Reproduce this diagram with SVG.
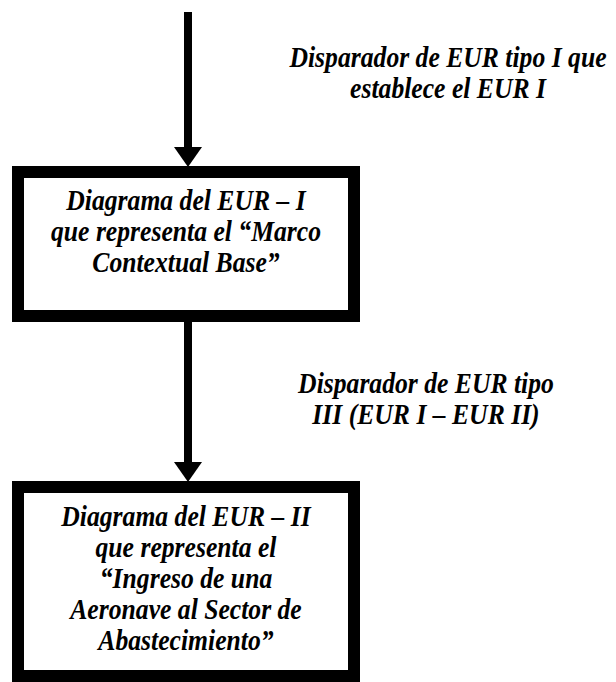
<svg xmlns="http://www.w3.org/2000/svg" width="616" height="682" viewBox="0 0 616 682">
<style>
.t{font-family:'Liberation Serif','Times New Roman','DejaVu Serif',serif;font-weight:700;font-style:italic;font-size:28.5px;fill:#000;text-anchor:middle}
.box{fill:#fff;stroke:#000;stroke-width:12}
.conn{stroke:#000;stroke-width:8;fill:none}
.head{fill:#000}
</style>
<g id="connectors">
<line class="conn" x1="188" y1="12" x2="188" y2="150"/>
<path class="head" d="M174,147 L202,147 L188,167 Z"/>
<line class="conn" x1="188" y1="322" x2="188" y2="465"/>
<path class="head" d="M174,462 L202,462 L188,482 Z"/>
<g id="label1" class="t" transform="translate(448 0) scale(0.9 1)">
<text x="0" y="67">Disparador de EUR tipo I que</text>
<text x="0" y="98">establece el EUR I</text>
</g>
<g id="label2" class="t" transform="translate(426 0) scale(0.9 1)">
<text x="0" y="393">Disparador de EUR tipo</text>
<text x="0" y="424">III (EUR I – EUR II)</text>
</g>
</g>
<g id="node1">
<rect class="box" x="18" y="172" width="336" height="144"/>
<g class="t" transform="translate(186 0) scale(0.9 1)">
<text x="0" y="210">Diagrama del EUR – I</text>
<text x="0" y="241">que representa el “Marco</text>
<text x="0" y="272">Contextual Base”</text>
</g>
</g>
<g id="node2">
<rect class="box" x="18" y="487" width="336" height="189"/>
<g class="t" transform="translate(186 0) scale(0.9 1)">
<text x="0" y="526">Diagrama del EUR – II</text>
<text x="0" y="557">que representa el</text>
<text x="0" y="588">“Ingreso de una</text>
<text x="0" y="619">Aeronave al Sector de</text>
<text x="0" y="650">Abastecimiento”</text>
</g>
</g>
</svg>
